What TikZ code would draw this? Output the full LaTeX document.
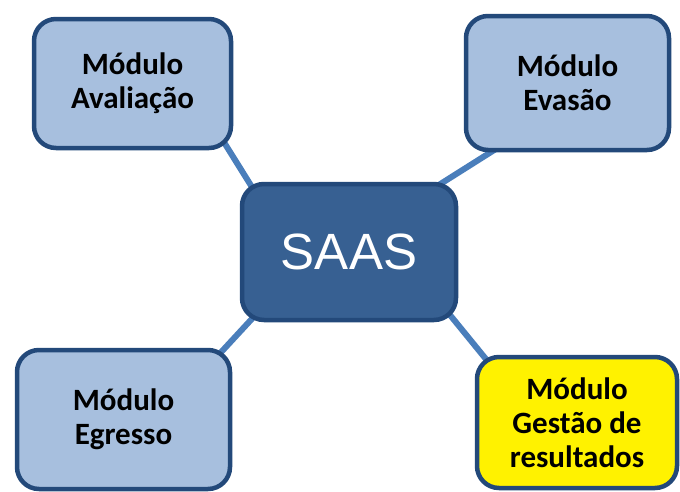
\documentclass[tikz,border=0pt]{standalone}
\usepackage{fontspec}
\setmainfont{Carlito}
\newfontfamily\saasfont{Liberation Sans}
\usepackage{tikz}
\usetikzlibrary{backgrounds}
\definecolor{modfill}{HTML}{A7BFDE}
\definecolor{modborda}{HTML}{23497A}
\definecolor{saasfill}{HTML}{376092}
\definecolor{linha}{HTML}{4A7EBB}
\begin{document}
\begin{tikzpicture}[x=1pt,y=1pt,
	modulo/.style={draw=modborda,line width=4.5pt,fill=modfill,rounded corners=22pt,align=center,
		font=\fontsize{31}{34}\selectfont\bfseries,inner sep=0pt},
	conector/.style={draw=linha,line width=6pt}]
	\useasboundingbox (0,0) rectangle (680,-491);
	
	%caixas
	\node[draw=modborda,line width=4.5pt,fill=saasfill,rounded corners=22pt,minimum width=214pt,minimum height=136pt,
		font=\saasfont\fontsize{51}{51}\selectfont,text=white] (saas) at (349,-252) {SAAS};
	\node[modulo,minimum width=197pt,minimum height=129pt] (aval) at (132.5,-83.5) {Módulo\\Avaliação};
	\node[modulo,minimum width=203pt,minimum height=134pt] (evasao) at (567.5,-83) {Módulo\\Evasão};
	\node[modulo,minimum width=213pt,minimum height=139pt] (egresso) at (123.5,-419.5) {Módulo\\Egresso};
	\node[modulo,fill=yellow,minimum width=200pt,minimum height=131pt] (gestao) at (577,-422.5) {Módulo\\Gestão de\\resultados};
	
	%ligacoes
	\begin{scope}[on background layer]
	\path[conector] ([shift={(-13,14)}]aval.south east) -- ([shift={(17,-13)}]saas.north west);
	\path[conector] ([shift={(38,7)}]evasao.south west) -- ([shift={(-27,-8)}]saas.north east);
	\path[conector] ([shift={(21,13)}]saas.south west) -- ([shift={(-20,-14)}]egresso.north east);
	\path[conector] ([shift={(-17,18)}]saas.south east) -- ([shift={(15,-9)}]gestao.north west);
	\end{scope}
\end{tikzpicture}
\end{document}
